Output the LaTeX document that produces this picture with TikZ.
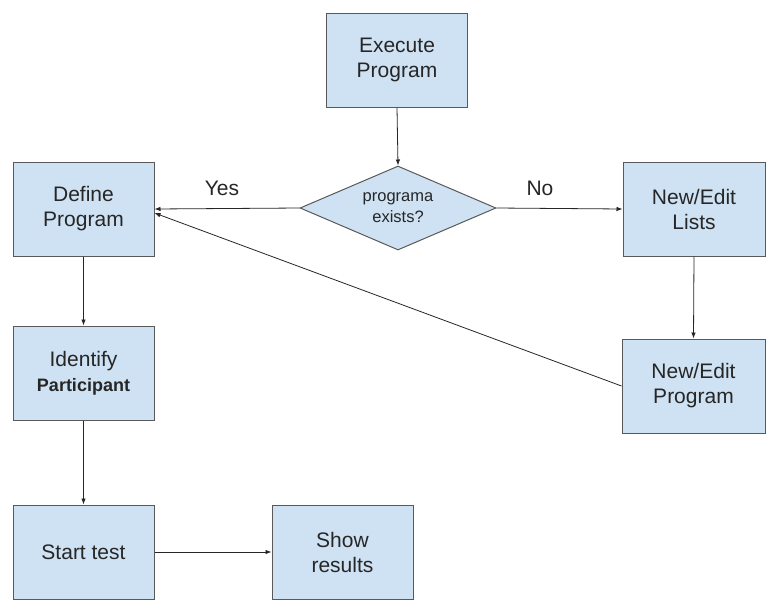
\documentclass[tikz,border=0pt]{standalone}
\usepackage{fontspec}
\setmainfont{Liberation Sans}
\usetikzlibrary{shapes.geometric,arrows.meta,calc}
\definecolor{boxfill}{HTML}{CFE2F3}
\definecolor{boxline}{HTML}{595959}
\definecolor{txt}{HTML}{262626}
\tikzset{
  x=1pt,y=-1pt,
  stepbox/.style={draw=boxline,fill=boxfill,line width=1pt,rectangle,
    minimum width=141pt,minimum height=94pt,inner sep=0pt,align=center,
    text=txt,font=\fontsize{21}{25}\selectfont},
  decision/.style={draw=boxline,fill=boxfill,line width=1pt,diamond,aspect=2.33,
    minimum width=196pt,minimum height=84pt,inner sep=0pt,align=center,
    text=txt,font=\fontsize{16.5}{21}\selectfont},
  flow/.style={draw=black!85,line width=0.8pt,-{Latex[length=6pt,width=4.5pt]}},
  lbl/.style={text=txt,font=\fontsize{21}{25}\selectfont,inner sep=0pt}
}
\begin{document}
\begin{tikzpicture}
\useasboundingbox (0,0) rectangle (766,614);
\node[stepbox] (exec) at (397,60) {Execute\\Program};
\node[decision] (dec) at (398,208) {programa\\exists?};
\node[stepbox] (define) at (83.5,209) {Define\\Program};
\node[stepbox,minimum width=142pt] (lists) at (694,209) {New/Edit\\Lists};
\node[stepbox,minimum width=143pt] (nep) at (693.5,386) {New/Edit\\Program};
\node[stepbox] (ident) at (83.5,373) {Identify\\{\fontsize{18}{20}\selectfont\bfseries Participant}};
\node[stepbox] (start) at (83.5,552) {Start test};
\node[stepbox] (show) at (342.5,552) {Show\\results};
\node[lbl] (yes) at (222,188) {Yes};
\node[lbl] (no) at (540,188) {No};
\draw[flow] (exec.south) -- (dec.north);
\draw[flow] (dec.west) -- (define.east);
\draw[flow] (dec.east) -- (lists.west);
\draw[flow] (lists.south) -- (nep.north);
\draw[flow] (nep.west) -- ($(define.east)+(0,4)$);
\draw[flow] (define.south) -- (ident.north);
\draw[flow] (ident.south) -- (start.north);
\draw[flow] (start.east) -- (show.west);
\end{tikzpicture}
\end{document}
